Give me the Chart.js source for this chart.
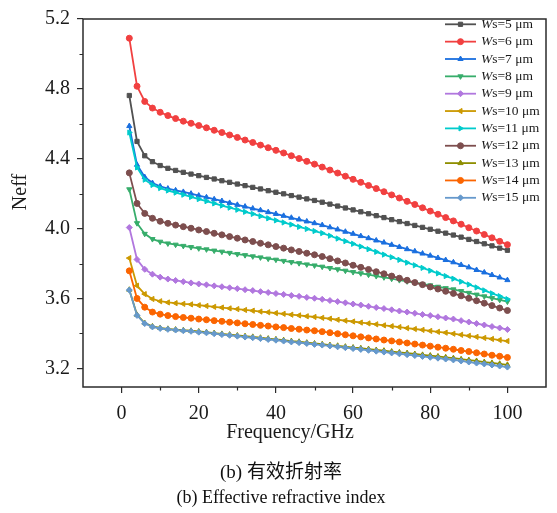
<!DOCTYPE html>
<html>
<head>
<meta charset="utf-8">
<script src="https://cdn.jsdelivr.net/npm/chart.js@4.4.1/dist/chart.umd.min.js"></script>
<style>
  body { margin: 0; background: #fff; }
  #wrap { position: relative; width: 557px; height: 513px; }
  .cap { position: absolute; left: 0; width: 562px; text-align: center; color: #111;
         font-family: "Liberation Serif", serif; white-space: nowrap; }
  .cjk { font-family: "Noto Sans CJK SC", sans-serif; }
</style>
</head>
<body>
<div id="wrap">
  <canvas id="neffChart" width="557" height="513"></canvas>
  <div class="cap" style="top:458px;font-size:19px;line-height:24px">(b) <span class="cjk">有效折射率</span></div>
  <div class="cap" style="top:486px;font-size:18px;line-height:22px">(b) Effective refractive index</div>
</div>
<script>
// Frequency points (GHz)
const freq = [2, 4, 6, 8, 10, 12, 14, 16, 18, 20,
  22, 24, 26, 28, 30, 32, 34, 36, 38, 40,
  42, 44, 46, 48, 50, 52, 54, 56, 58, 60,
  62, 64, 66, 68, 70, 72, 74, 76, 78, 80,
  82, 84, 86, 88, 90, 92, 94, 96, 98, 100];

// Slot widths (um)
const widths = [5, 6, 7, 8, 9, 10, 11, 12, 13, 14, 15];

// Neff for each slot width
const ws5 = [4.762, 4.499, 4.417, 4.383, 4.361, 4.345, 4.333, 4.322, 4.312, 4.303,
  4.293, 4.284, 4.274, 4.265, 4.255, 4.246, 4.236, 4.227, 4.217, 4.208,
  4.199, 4.189, 4.180, 4.170, 4.161, 4.151, 4.140, 4.129, 4.118, 4.107,
  4.096, 4.085, 4.074, 4.063, 4.051, 4.040, 4.029, 4.018, 4.007, 3.996,
  3.985, 3.974, 3.963, 3.951, 3.938, 3.926, 3.913, 3.901, 3.888, 3.876];
const ws6 = [5.090, 4.815, 4.728, 4.690, 4.666, 4.647, 4.630, 4.615, 4.603, 4.590,
  4.577, 4.563, 4.550, 4.536, 4.522, 4.507, 4.493, 4.478, 4.463, 4.448,
  4.433, 4.417, 4.401, 4.385, 4.369, 4.352, 4.335, 4.318, 4.300, 4.282,
  4.265, 4.247, 4.229, 4.211, 4.193, 4.175, 4.156, 4.138, 4.119, 4.100,
  4.082, 4.063, 4.044, 4.025, 4.005, 3.986, 3.966, 3.947, 3.927, 3.908];
const ws7 = [4.587, 4.365, 4.295, 4.261, 4.242, 4.229, 4.219, 4.210, 4.200, 4.189,
  4.179, 4.168, 4.158, 4.147, 4.136, 4.126, 4.115, 4.105, 4.094, 4.084,
  4.073, 4.062, 4.052, 4.041, 4.031, 4.020, 4.007, 3.995, 3.982, 3.970,
  3.957, 3.945, 3.932, 3.920, 3.907, 3.895, 3.882, 3.870, 3.857, 3.845,
  3.832, 3.820, 3.807, 3.792, 3.778, 3.763, 3.749, 3.734, 3.720, 3.705];
const ws8 = [4.225, 4.031, 3.970, 3.940, 3.925, 3.915, 3.908, 3.901, 3.894, 3.887,
  3.881, 3.874, 3.868, 3.861, 3.854, 3.848, 3.841, 3.835, 3.828, 3.822,
  3.815, 3.808, 3.802, 3.795, 3.789, 3.782, 3.774, 3.767, 3.759, 3.751,
  3.744, 3.736, 3.728, 3.721, 3.713, 3.705, 3.698, 3.690, 3.682, 3.675,
  3.667, 3.659, 3.652, 3.642, 3.632, 3.622, 3.612, 3.602, 3.592, 3.582];
const ws9 = [4.006, 3.823, 3.767, 3.739, 3.722, 3.711, 3.703, 3.696, 3.689, 3.683,
  3.678, 3.672, 3.667, 3.661, 3.656, 3.650, 3.645, 3.639, 3.634, 3.628,
  3.623, 3.617, 3.612, 3.606, 3.601, 3.595, 3.588, 3.582, 3.575, 3.568,
  3.562, 3.555, 3.548, 3.542, 3.535, 3.528, 3.522, 3.515, 3.508, 3.502,
  3.495, 3.488, 3.482, 3.473, 3.465, 3.456, 3.448, 3.439, 3.431, 3.422];
const ws10 = [3.831, 3.673, 3.625, 3.597, 3.584, 3.577, 3.573, 3.569, 3.566, 3.561,
  3.557, 3.552, 3.548, 3.543, 3.539, 3.534, 3.530, 3.525, 3.521, 3.516,
  3.512, 3.507, 3.503, 3.498, 3.494, 3.489, 3.484, 3.478, 3.473, 3.468,
  3.462, 3.457, 3.452, 3.446, 3.441, 3.436, 3.430, 3.425, 3.420, 3.414,
  3.409, 3.404, 3.398, 3.392, 3.386, 3.380, 3.374, 3.368, 3.362, 3.356];
const ws11 = [4.550, 4.350, 4.280, 4.250, 4.232, 4.218, 4.206, 4.194, 4.181, 4.169,
  4.157, 4.144, 4.132, 4.120, 4.108, 4.096, 4.084, 4.071, 4.059, 4.047,
  4.035, 4.023, 4.010, 3.998, 3.986, 3.974, 3.959, 3.943, 3.928, 3.913,
  3.897, 3.882, 3.867, 3.851, 3.836, 3.821, 3.805, 3.790, 3.775, 3.759,
  3.744, 3.728, 3.713, 3.696, 3.680, 3.663, 3.646, 3.629, 3.613, 3.596];
const ws12 = [4.319, 4.144, 4.087, 4.059, 4.042, 4.030, 4.020, 4.011, 4.002, 3.992,
  3.983, 3.973, 3.964, 3.954, 3.945, 3.935, 3.926, 3.916, 3.907, 3.897,
  3.888, 3.878, 3.869, 3.859, 3.850, 3.840, 3.828, 3.815, 3.803, 3.790,
  3.778, 3.766, 3.753, 3.741, 3.728, 3.716, 3.704, 3.691, 3.679, 3.666,
  3.654, 3.641, 3.629, 3.615, 3.601, 3.587, 3.573, 3.559, 3.545, 3.531];
const ws13 = [3.650, 3.506, 3.459, 3.440, 3.431, 3.426, 3.422, 3.418, 3.415, 3.411,
  3.407, 3.402, 3.397, 3.393, 3.388, 3.384, 3.380, 3.375, 3.370, 3.366,
  3.361, 3.356, 3.352, 3.347, 3.342, 3.338, 3.333, 3.329, 3.324, 3.319,
  3.315, 3.310, 3.305, 3.301, 3.296, 3.291, 3.287, 3.282, 3.277, 3.273,
  3.268, 3.263, 3.258, 3.252, 3.247, 3.242, 3.236, 3.231, 3.226, 3.220];
const ws14 = [3.758, 3.600, 3.550, 3.522, 3.510, 3.502, 3.496, 3.491, 3.487, 3.482,
  3.478, 3.473, 3.469, 3.464, 3.460, 3.455, 3.451, 3.446, 3.442, 3.437,
  3.433, 3.428, 3.424, 3.419, 3.415, 3.410, 3.404, 3.398, 3.392, 3.386,
  3.380, 3.374, 3.368, 3.362, 3.357, 3.351, 3.345, 3.339, 3.333, 3.327,
  3.321, 3.315, 3.309, 3.302, 3.296, 3.289, 3.282, 3.275, 3.269, 3.262];
const ws15 = [3.648, 3.503, 3.456, 3.437, 3.428, 3.423, 3.419, 3.415, 3.412, 3.407,
  3.403, 3.398, 3.393, 3.389, 3.384, 3.379, 3.375, 3.370, 3.365, 3.361,
  3.356, 3.351, 3.347, 3.342, 3.337, 3.333, 3.328, 3.323, 3.318, 3.313,
  3.308, 3.303, 3.298, 3.293, 3.288, 3.283, 3.278, 3.273, 3.268, 3.263,
  3.258, 3.253, 3.248, 3.242, 3.236, 3.230, 3.225, 3.219, 3.213, 3.207];

const series = [ws5, ws6, ws7, ws8, ws9, ws10, ws11, ws12, ws13, ws14, ws15];

// Axis ticks
const xTicks = [0, 20, 40, 60, 80, 100];
const xMinor = [10, 30, 50, 70, 90];
const yTicks = [3.2, 3.6, 4.0, 4.4, 4.8, 5.2];
const yMinor = [3.4, 3.8, 4.2, 4.6, 5.0];

// Line colours and markers
const colors = ["#515151", "#F14040", "#1A6FDF", "#37AD6B", "#B177DE", "#CC9900",
  "#00CBCC", "#7D4E4E", "#8E8E00", "#FB6501", "#6699CC"];
const markers = [
  { style: "rect", rot: 0 },
  { style: "circle", rot: 0 },
  { style: "triangle", rot: 0 },
  { style: "triangle", rot: 180 },
  { style: "rectRot", rot: 0 },
  { style: "triangle", rot: -90 },
  { style: "triangle", rot: 90 },
  { style: "circle", rot: 0 },
  { style: "triangle", rot: 0 },
  { style: "circle", rot: 0 },
  { style: "rectRot", rot: 0 },
];

const serif = '"Liberation Serif", "Times New Roman", serif';
const ink = "#1a1a1a";
const dotSize = 3;

const datasets = series.map((vals, i) => ({
  label: "Ws=" + widths[i] + " μm",
  data: freq.map((f, k) => ({ x: f, y: vals[k] })),
  borderColor: colors[i],
  backgroundColor: colors[i],
  borderWidth: 1.8,
  pointStyle: markers[i].style,
  rotation: markers[i].rot,
  pointRadius: dotSize,
  pointBorderWidth: 1,
  tension: 0,
  order: series.length - i, // later series drawn on top
}));

// Frame, minor ticks, axis titles and legend
const decorations = {
  id: "decorations",
  afterDraw(chart) {
    const { ctx, chartArea: a, scales: { x, y } } = chart;
    ctx.save();
    ctx.strokeStyle = "#2b2b2b";
    ctx.lineWidth = 1.5;
    ctx.strokeRect(a.left, a.top, a.right - a.left, a.bottom - a.top);

    ctx.lineWidth = 1.2;
    ctx.beginPath();
    xMinor.forEach(v => {
      const px = Math.round(x.getPixelForValue(v)) + 0.5;
      ctx.moveTo(px, a.bottom);
      ctx.lineTo(px, a.bottom + 3.5);
    });
    yMinor.forEach(v => {
      const py = Math.round(y.getPixelForValue(v)) + 0.5;
      ctx.moveTo(a.left, py);
      ctx.lineTo(a.left - 3.5, py);
    });
    ctx.stroke();

    // axis titles
    ctx.fillStyle = ink;
    ctx.font = "20px " + serif;
    ctx.textAlign = "center";
    ctx.textBaseline = "middle";
    ctx.fillText("Frequency/GHz", 290, 433);
    ctx.save();
    ctx.translate(21, 192);
    ctx.rotate(-Math.PI / 2);
    ctx.fillText("Neff", 0, 0);
    ctx.restore();

    // legend
    ctx.textAlign = "left";
    widths.forEach((w, i) => {
      const ly = 24.3 + 17.35 * i;
      ctx.strokeStyle = colors[i];
      ctx.fillStyle = colors[i];
      ctx.lineWidth = 1.8;
      ctx.beginPath();
      ctx.moveTo(445, ly);
      ctx.lineTo(476, ly);
      ctx.stroke();
      ctx.lineWidth = 1;
      Chart.helpers.drawPoint(ctx, {
        pointStyle: markers[i].style, rotation: markers[i].rot, radius: dotSize, borderWidth: 1,
      }, 460.5, ly);
      ctx.fillStyle = ink;
      ctx.font = "italic 13.5px " + serif;
      ctx.fillText("W", 481, ly);
      const wW = ctx.measureText("W").width;
      ctx.font = "13.5px " + serif;
      ctx.fillText("s=" + w + " μm", 481 + wW, ly);
    });
    ctx.restore();
  },
};

new Chart(document.getElementById("neffChart"), {
  type: "line",
  data: { datasets },
  options: {
    responsive: false,
    animation: false,
    layout: { padding: { left: 0, top: 13, right: 11, bottom: 0 } },
    plugins: { legend: { display: false }, tooltip: { enabled: false } },
    scales: {
      x: {
        type: "linear",
        min: -10,
        max: 110,
        afterFit(scale) { scale.height = 126; },
        afterBuildTicks(scale) { scale.ticks = xTicks.map(v => ({ value: v })); },
        border: { display: false },
        grid: { drawOnChartArea: false, drawTicks: true, tickLength: 6, color: "#2b2b2b", lineWidth: 1.2 },
        ticks: {
          padding: 9,
          color: ink,
          font: { family: serif, size: 20 },
          callback: v => String(v),
        },
      },
      y: {
        type: "linear",
        min: 3.093,
        max: 5.2,
        afterFit(scale) { scale.width = 83; },
        afterBuildTicks(scale) { scale.ticks = yTicks.map(v => ({ value: v })); },
        border: { display: false },
        grid: { drawOnChartArea: false, drawTicks: true, tickLength: 6, color: "#2b2b2b", lineWidth: 1.2 },
        ticks: {
          padding: 7,
          color: ink,
          font: { family: serif, size: 20 },
          callback: v => v.toFixed(1),
        },
      },
    },
  },
  plugins: [decorations],
});
</script>
</body>
</html>
